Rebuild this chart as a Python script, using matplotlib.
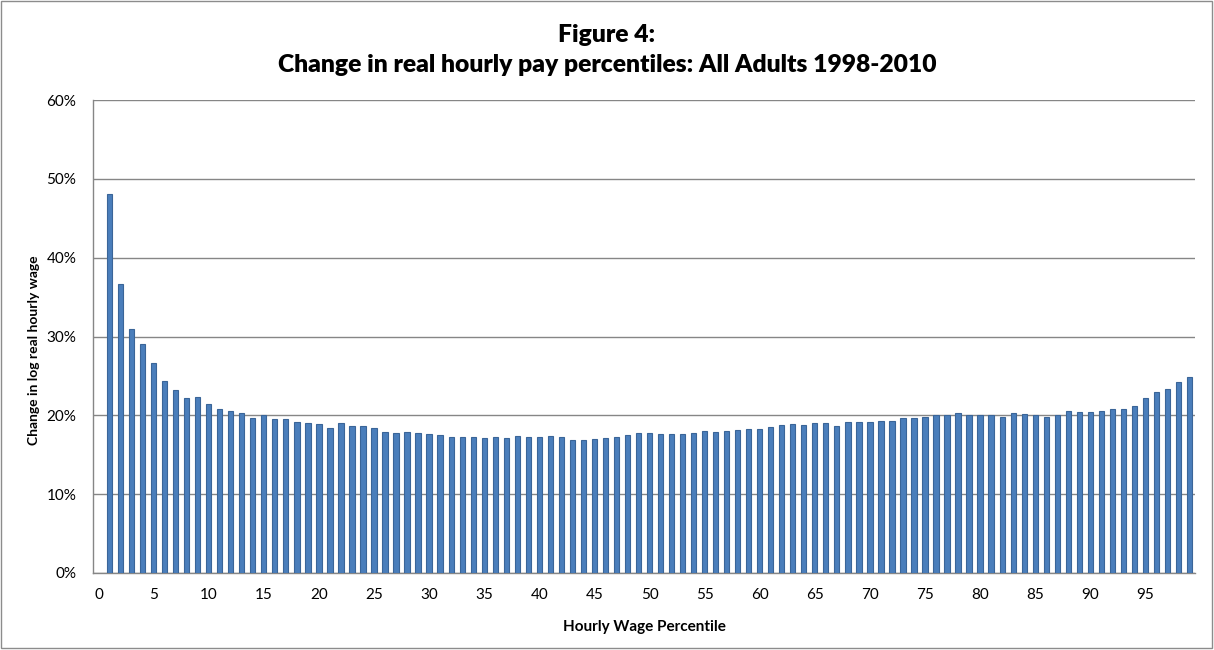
import matplotlib
matplotlib.use("Agg")
import matplotlib.pyplot as plt
from matplotlib.patches import Rectangle
from matplotlib.ticker import FuncFormatter, MultipleLocator

plt.rcParams['font.family'] = ['Lato', 'DejaVu Sans']

# Hourly wage percentiles and change in log real hourly wage (%), 1998-2010
percentiles = list(range(1, 100))
change_pct = [
    48.1, 36.6, 31.0, 29.1, 26.7, 24.4, 23.2, 22.2, 22.3, 21.5,
    20.8, 20.6, 20.3, 19.7, 20.1, 19.5, 19.5, 19.2, 19.0, 18.9,
    18.4, 19.0, 18.7, 18.6, 18.4, 17.85, 17.7, 17.9, 17.7, 17.6,
    17.5, 17.2, 17.2, 17.3, 17.1, 17.2, 17.1, 17.4, 17.2, 17.2,
    17.4, 17.2, 16.9, 16.9, 16.95, 17.1, 17.3, 17.55, 17.8, 17.75,
    17.65, 17.65, 17.65, 17.75, 18.05, 17.9, 18.0, 18.1, 18.3, 18.3,
    18.5, 18.8, 18.85, 18.8, 19.05, 19.0, 18.65, 19.15, 19.15, 19.15,
    19.3, 19.3, 19.6, 19.65, 19.8, 20.05, 20.0, 20.25, 20.1, 20.1,
    20.1, 19.75, 20.3, 20.2, 20.0, 19.8, 20.05, 20.55, 20.4, 20.4,
    20.5, 20.8, 20.85, 21.2, 22.2, 22.9, 23.3, 24.2, 24.85,
]
x_ticks = list(range(0, 100, 5))

title_text = "Figure 4:\nChange in real hourly pay percentiles: All Adults 1998-2010"
x_label = "Hourly Wage Percentile"
y_label = "Change in log real hourly wage"

W, H = 1214, 650
fig = plt.figure(figsize=(W / 100, H / 100), dpi=100)
ax = fig.add_axes([93 / W, 1 - 573 / H, (1195 - 93) / W, (573 - 100) / H])

ax.bar(percentiles, change_pct, width=0.48, color='#4A7EBB',
       edgecolor='#3A6598', linewidth=0.8, zorder=3)

ax.set_xlim(-0.5, 99.5)
ax.set_ylim(0, 60)
ax.yaxis.set_major_locator(MultipleLocator(10))
ax.yaxis.set_major_formatter(FuncFormatter(lambda v, _: f"{v:.0f}%"))
ax.set_xticks(x_ticks)
ax.set_xticklabels([str(t) for t in x_ticks])

ax.grid(axis='y', color='#868686', linewidth=1.0, zorder=0)
for side in ('top', 'right'):
    ax.spines[side].set_visible(False)
for side in ('left', 'bottom'):
    ax.spines[side].set_color('#868686')
    ax.spines[side].set_linewidth(1.0)
ax.tick_params(axis='y', length=0, labelsize=11, pad=12)
ax.tick_params(axis='x', length=0, labelsize=11, pad=11)

ax.set_xlabel(x_label, fontsize=11, fontweight='bold')
ax.xaxis.set_label_coords(0.5, -(620 - 573) / 473)
ax.set_ylabel(y_label, fontsize=10, fontweight='bold', va='center')
ax.yaxis.set_label_coords((34 - 93) / 1102, (573 - 350) / 473)

fig.text(0.5, 1 - 50 / H, title_text, ha='center', va='center',
         fontsize=17.7, fontweight='heavy', linespacing=1.45)

fig.patches.append(Rectangle((0.5 / W, 2 / H), (W - 3) / W, (H - 3) / H,
                             transform=fig.transFigure, fill=False,
                             edgecolor='#8c8c8c', linewidth=1.0))

fig.savefig("out.png", dpi=100)
